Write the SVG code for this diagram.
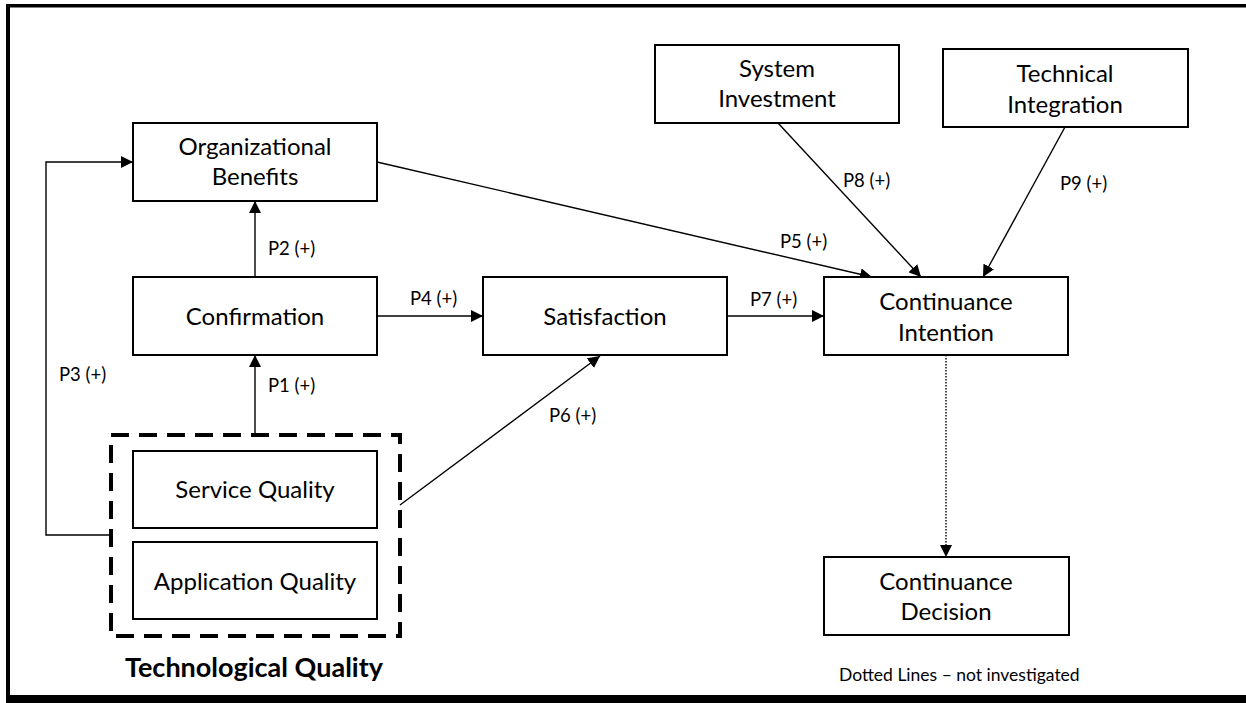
<svg xmlns="http://www.w3.org/2000/svg" width="1246" height="703" viewBox="0 0 1246 703">
<style>
.box{fill:#fff;stroke:#000;stroke-width:2}
.t{font-family:Lato,"Liberation Sans",sans-serif;font-size:24px;fill:#000;text-anchor:middle}
.lbl{font-family:Lato,"Liberation Sans",sans-serif;font-size:18.5px;fill:#000}
.c{fill:none;stroke:#000;stroke-width:1.4}
</style>
<defs>
<marker id="ah" viewBox="0 0 10 10" refX="10" refY="5" markerWidth="12" markerHeight="12" markerUnits="userSpaceOnUse" orient="auto">
<path d="M0,0 L10,5 L0,10 z" fill="#000"/>
</marker>
</defs>
<rect x="0" y="0" width="1246" height="703" fill="#fff"/>
<g id="frame">
<rect x="6" y="4" width="1240" height="3.5" fill="#000"/>
<rect x="6" y="4" width="4" height="699" fill="#000"/>
<rect x="6" y="695" width="1240" height="8" fill="#000"/>
</g>
<g id="connectors">
<line class="c" x1="255" y1="435" x2="255" y2="355" marker-end="url(#ah)"/>
<line class="c" x1="255" y1="277" x2="255" y2="201" marker-end="url(#ah)"/>
<path class="c" d="M111,535 H46 V162 H133" marker-end="url(#ah)"/>
<line class="c" x1="377" y1="316" x2="483" y2="316" marker-end="url(#ah)"/>
<line class="c" x1="727" y1="316" x2="824" y2="316" marker-end="url(#ah)"/>
<line class="c" x1="400" y1="505" x2="600" y2="356" marker-end="url(#ah)"/>
<line class="c" x1="377" y1="162" x2="872" y2="277" marker-end="url(#ah)"/>
<line class="c" x1="778" y1="123" x2="921" y2="277" marker-end="url(#ah)"/>
<line class="c" x1="1065" y1="127" x2="983" y2="277" marker-end="url(#ah)"/>
<line class="c" x1="946" y1="355" x2="946" y2="557" stroke-dasharray="1.5 1.5" marker-end="url(#ah)"/>
<text class="lbl" x="268" y="255">P2 (+)</text>
<text class="lbl" x="268" y="392">P1 (+)</text>
<text class="lbl" x="59" y="381">P3 (+)</text>
<text class="lbl" x="410" y="305">P4 (+)</text>
<text class="lbl" x="750" y="306">P7 (+)</text>
<text class="lbl" x="780" y="248">P5 (+)</text>
<text class="lbl" x="843" y="187">P8 (+)</text>
<text class="lbl" x="1060" y="190">P9 (+)</text>
<text class="lbl" x="549" y="422">P6 (+)</text>
</g>
<g id="org">
<rect class="box" x="133" y="123" width="244" height="78"/>
<text class="t" x="255" y="155">Organizational</text>
<text class="t" x="255" y="185">Benefits</text>
</g>
<g id="confirmation">
<rect class="box" x="133" y="277" width="244" height="78"/>
<text class="t" x="255" y="325">Confirmation</text>
</g>
<g id="techquality">
<rect x="111" y="435" width="289" height="201" fill="none" stroke="#000" stroke-width="4" stroke-dasharray="18 10"/>
<text x="254" y="677" font-family="Lato,'Liberation Sans',sans-serif" font-size="27" font-weight="bold" text-anchor="middle">Technological Quality</text>
</g>
<g id="service">
<rect class="box" x="133" y="451" width="244" height="77"/>
<text class="t" x="255" y="498">Service Quality</text>
</g>
<g id="application">
<rect class="box" x="133" y="542" width="244" height="77"/>
<text class="t" x="255" y="590">Application Quality</text>
</g>
<g id="satisfaction">
<rect class="box" x="483" y="277" width="244" height="78"/>
<text class="t" x="605" y="325">Satisfaction</text>
</g>
<g id="intention">
<rect class="box" x="824" y="277" width="244" height="78"/>
<text class="t" x="946" y="310">Continuance</text>
<text class="t" x="946" y="341">Intention</text>
</g>
<g id="investment">
<rect class="box" x="655" y="45" width="244" height="78"/>
<text class="t" x="777" y="77">System</text>
<text class="t" x="777" y="107">Investment</text>
</g>
<g id="integration">
<rect class="box" x="943" y="49" width="245" height="78"/>
<text class="t" x="1065" y="82">Technical</text>
<text class="t" x="1065" y="113">Integration</text>
</g>
<g id="decision">
<rect class="box" x="824" y="557" width="245" height="78"/>
<text class="t" x="946" y="590">Continuance</text>
<text class="t" x="946" y="620">Decision</text>
</g>
<g id="note">
<text x="839" y="681" font-family="Lato,'Liberation Sans',sans-serif" font-size="17.5">Dotted Lines – not investigated</text>
</g>
</svg>
